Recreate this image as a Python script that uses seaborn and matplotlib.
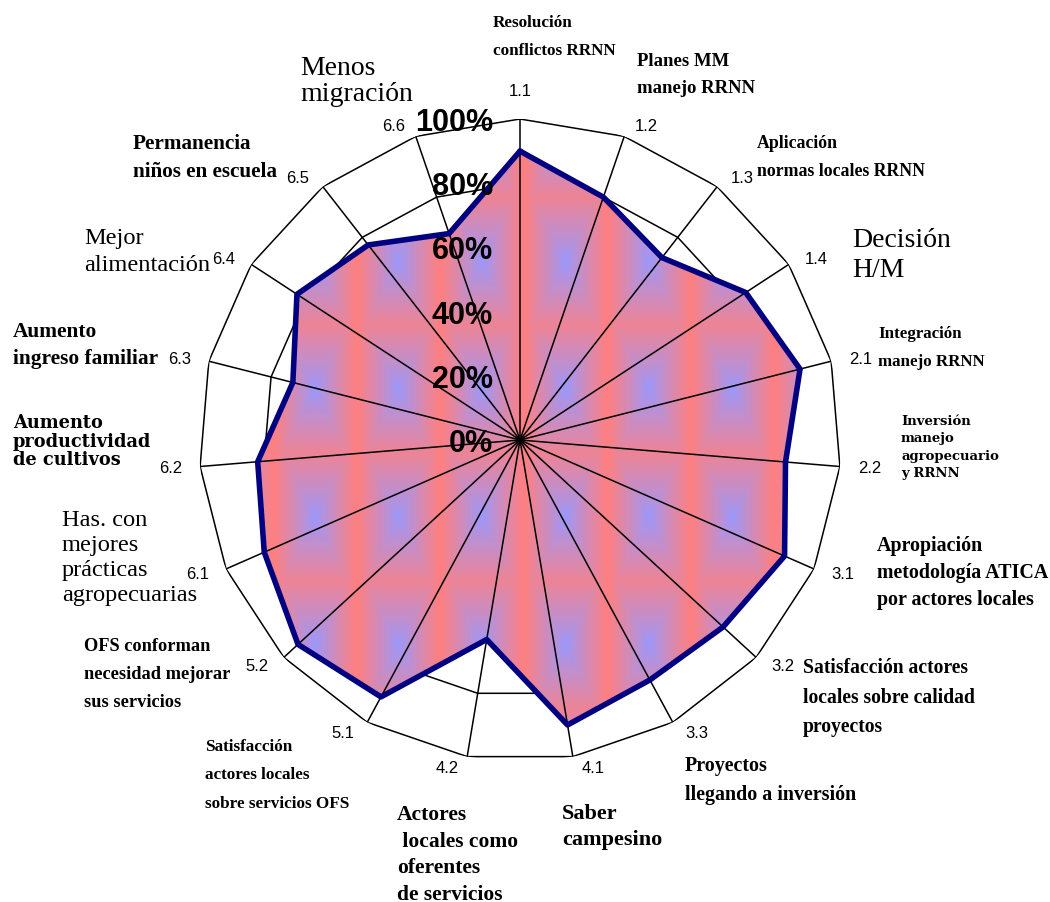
import numpy as np
import matplotlib
matplotlib.use("Agg")
import matplotlib.pyplot as plt
import seaborn as sns
from matplotlib.image import AxesImage
from matplotlib.transforms import offset_copy

# ---- data -------------------------------------------------------------
codes = ["1.1", "1.2", "1.3", "1.4", "2.1", "2.2", "3.1", "3.2", "3.3",
         "4.1", "4.2", "5.1", "5.2", "6.1", "6.2", "6.3", "6.4", "6.5", "6.6"]
values = [90, 80, 72, 84, 90, 83, 90, 86, 85, 90, 63, 91, 94, 87, 82, 73, 83, 77, 68]
descriptions = [
    "Resolución\nconflictos RRNN",
    "Planes MM\nmanejo RRNN",
    "Aplicación\nnormas locales RRNN",
    "Decisión\nH/M",
    "Integración\nmanejo RRNN",
    "Inversión\nmanejo\nagropecuario\ny RRNN",
    "Apropiación\nmetodología ATICA\npor actores locales",
    "Satisfacción actores\nlocales sobre calidad\nproyectos",
    "Proyectos\nllegando a inversión",
    "Saber\ncampesino",
    "Actores\n locales como\noferentes\nde servicios",
    "Satisfacción\nactores locales\nsobre servicios OFS",
    "OFS conforman\nnecesidad mejorar\nsus servicios",
    "Has. con\nmejores\nprácticas\nagropecuarias",
    "Aumento\nproductividad\nde cultivos",
    "Aumento\ningreso familiar",
    "Mejor\nalimentación",
    "Permanencia\nniños en escuela",
    "Menos\nmigración",
]
pct_ticks = [0, 20, 40, 60, 80, 100]

# ---- description label layout: x px, first baseline px, style, size pt, line pitch px
desc_layout = [
    (493, 27, "cond", 12.3, 27), (637, 66, "cond", 13.5, 27),
    (757, 147, "cond", 12.8, 27), (852, 247, "big", 20.0, 30),
    (878, 338, "cond", 12.2, 27), (901, 425, "wide", 9.5, 17.7),
    (877, 550, "cond", 14.4, 24.5), (803, 672, "cond", 14.1, 26),
    (685, 770, "cond", 14.4, 26), (562, 819, "cond", 16.0, 27),
    (397, 820, "cond", 15.5, 26), (205, 751, "cond", 12.3, 27.5),
    (84, 651, "cond", 13.2, 27), (62, 527, "big", 17.6, 26.3),
    (13, 428, "wide", 12.8, 18), (13, 337, "cond", 15.4, 26),
    (84, 245, "big", 17.6, 28), (133, 149, "cond", 15.2, 27),
    (300, 75, "big", 20.0, 26),
]
# family, weight, ascent (em) and descent (em) of the "lp" probe used by matplotlib
styles = {
    "cond": (["Liberation Serif", "DejaVu Serif"], "bold", 0.69, 0.22),
    "big": (["Liberation Serif", "DejaVu Serif"], "normal", 0.69, 0.22),
    "wide": (["DejaVu Serif"], "bold", 0.76, 0.24),
}

sns.set_theme(style="white")
plt.rcParams["font.family"] = ["Liberation Serif", "DejaVu Serif"]
plt.rcParams["text.color"] = "black"

W, H = 1050, 903
fig = plt.figure(figsize=(W / 100, H / 100), dpi=100)
fig.patch.set_facecolor("white")

cx, cy, R = 520, 441, 321
ax = fig.add_axes([(cx - R) / W, (H - cy - R) / H, 2 * R / W, 2 * R / H],
                  projection="polar")
ax.set_theta_zero_location("N")
ax.set_theta_direction(-1)
ax.set_axis_off()

n = len(codes)
theta = np.arange(n) * 2 * np.pi / n
theta_c = np.append(theta, theta[0])
vals_c = np.append(values, values[0])

# polygonal grid rings
for lvl in pct_ticks[1:]:
    ax.plot(theta_c, [lvl] * (n + 1), color="black", lw=1.1, zorder=1)

# filled area, base colour plus tiled gradient texture clipped to it
poly = ax.fill(theta_c, vals_c, facecolor="#FF8080", edgecolor="none", zorder=2)[0]

red = np.array([1.0, 0.5, 0.5])
blue = np.array([0.6, 0.6, 1.0])
px, py, x0, y0, a = 83.5, 128.0, 315.0, 390.0, 0.8
xs = np.arange(2 * R) + (cx - R) + 0.5
ys = np.arange(2 * R) + (cy - R) + 0.5
u = ((xs - x0) / px + 0.5) % 1 - 0.5
v = ((ys - y0) / py + 0.5) % 1 - 0.5
t = np.maximum(np.abs(2 * u)[None, :], a * np.abs(2 * v)[:, None]) ** 0.85
tex = blue[None, None, :] * (1 - t[..., None]) + red[None, None, :] * t[..., None]
im = AxesImage(ax, interpolation="bilinear", origin="upper",
               extent=(0, 1, 0, 1), transform=ax.transAxes, zorder=2.5)
im.set_data(tex)
im.set_clip_path(poly)
ax.add_image(im)

# spokes
for th in theta:
    ax.plot([th, th], [0, 100], color="black", lw=1.1, zorder=3)

# data outline
sns.lineplot(x=theta_c, y=vals_c, sort=False, ax=ax, color="#000080",
             lw=4.0, zorder=4, estimator=None)
ax.set_xlim(0, 2 * np.pi)
ax.set_ylim(0, 100)

# category codes just outside the outer ring
for th, code in zip(theta, codes):
    s = np.sin(th)
    if abs(s) < 0.05:
        ha, va, dx, dy = "center", "bottom", 0, 10
    elif s > 0:
        ha, va, dx, dy = "left", "center", 7, 0
    else:
        ha, va, dx, dy = "right", "center", -7, 0
    trc = offset_copy(ax.transData, fig=fig, x=dx, y=dy, units="dots")
    ax.text(th, 103.5, code, transform=trc, ha=ha, va=va, fontsize=12,
            family=["Liberation Sans", "DejaVu Sans"], color="black", zorder=6)

# value labels along the first spoke
tr = offset_copy(ax.transData, fig=fig, x=-27, y=-3, units="dots")
for p in pct_ticks:
    ax.text(0, p, f"{p}%", transform=tr, ha="right", va="center", fontsize=22,
            fontweight="bold", family=["Liberation Sans", "DejaVu Sans"],
            color="black", zorder=6)

# descriptive labels
for text, (x, base, st, fs, pitch) in zip(descriptions, desc_layout):
    fam, wt, asc, desc = styles[st]
    fpx = fs * 100 / 72
    ls = (pitch / fpx - desc) / asc
    top = base - asc * fpx
    fig.text(x / W, 1 - top / H, text, ha="left", va="top", color="black",
             family=fam, fontweight=wt, fontsize=fs, linespacing=ls)

fig.savefig("out.png", dpi=100, facecolor="white")
